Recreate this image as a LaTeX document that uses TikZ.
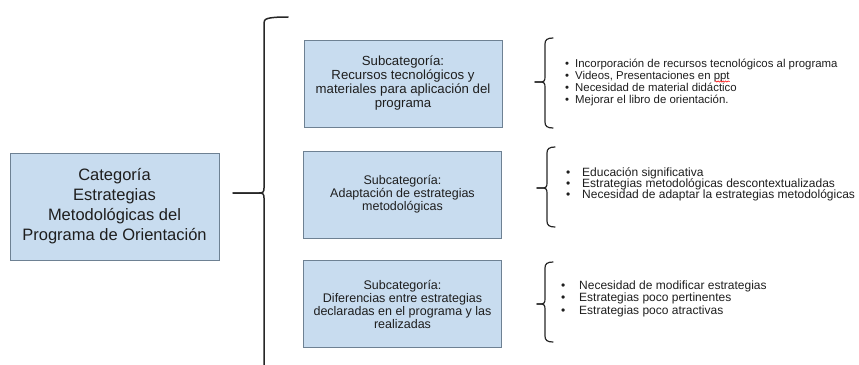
\documentclass[tikz,border=0pt]{standalone}
\usepackage{fontspec}
\setmainfont{Liberation Sans}
\usetikzlibrary{decorations.pathmorphing}
\definecolor{boxfill}{HTML}{C8DCEF}
\definecolor{boxdraw}{HTML}{6E8193}
\definecolor{txt}{HTML}{1E1E1E}
\newcommand\mybrace[6]{%
  \draw[bracestyle] (#6,#2) .. controls (#1+2,#2) and (#1,#2+2) .. (#1,#2+6)
    -- (#1,#3-5) .. controls (#1,#3-1) and (#1-1,#3) .. (#1-5,#3) -- (#5,#3);
  \draw[bracestyle] (#5,#3) -- (#1-5,#3) .. controls (#1-1,#3) and (#1,#3+1) .. (#1,#3+5)
    -- (#1,#4-6) .. controls (#1,#4-2) and (#1+2,#4) .. (#6,#4);}
\begin{document}
\begin{tikzpicture}[x=1pt,y=-1pt,
  catbox/.style={draw=boxdraw, fill=boxfill, line width=1pt, text=txt, align=center, inner sep=0pt},
  subbox/.style={catbox, minimum width=198pt, minimum height=87pt, font=\fontsize{12.5}{13}\selectfont},
  bracestyle/.style={draw=black!85, line width=1.2pt, line cap=round},
  item/.style={anchor=base west, inner sep=0pt, text=txt, font=\fontsize{12}{12}\selectfont}]
\useasboundingbox (0,0) rectangle (859,364);
\node[catbox, minimum width=209pt, minimum height=107pt, font=\fontsize{16.5}{20}\selectfont] (cat) at (114.5,206.5)
  {Categoría\\Estrategias\\Metodológicas del\\Programa de Orientación};
\node[subbox, font=\fontsize{13.2}{14}\selectfont] (s1) at (403,83.5) {Subcategoría:\\Recursos tecnológicos y\\materiales para aplicación del\\programa};
\node[subbox] (s2) at (402.5,194.5) {Subcategoría:\\Adaptación de estrategias\\metodológicas};
\node[subbox] (s3) at (402.5,304) {Subcategoría:\\Diferencias entre estrategias\\declaradas en el programa y las\\realizadas};
% big brace
\begin{scope}[bracestyle/.style={draw=black!85, line width=1.5pt, line cap=round}]
\mybrace{264}{17}{193}{372}{233}{288}
\end{scope}
% small braces
\mybrace{545}{38}{82}{128}{535}{553}
\mybrace{547}{147}{188}{227}{537}{555}
\mybrace{545}{262}{304}{342}{537}{553}
% list 1
\begin{scope}[item/.append style={font=\fontsize{11.4}{12}\selectfont}]
\node[item] (l11) at (565,67) {\makebox[10pt][l]{\textbullet}Incorporación de recursos tecnológicos al programa};
\node[item] (l12) at (565,79) {\makebox[10pt][l]{\textbullet}Videos, Presentaciones en ppt};
\node[item] (l13) at (565,91) {\makebox[10pt][l]{\textbullet}Necesidad de material didáctico};
\node[item] (l14) at (565,103) {\makebox[10pt][l]{\textbullet}Mejorar el libro de orientación.};
\end{scope}
\draw[red, line width=0.5pt, decorate, decoration={snake, amplitude=0.7pt, segment length=2.5pt}]
  ([xshift=-15pt,yshift=-2.5pt]l12.base east) -- ([yshift=-2.5pt]l12.base east);
% list 2
\node[item] (l21) at (566,176) {\makebox[16pt][l]{\textbullet}Educación significativa};
\node[item] (l22) at (566,187) {\makebox[16pt][l]{\textbullet}Estrategias metodológicas descontextualizadas};
\node[item] (l23) at (566,198) {\makebox[16pt][l]{\textbullet}Necesidad de adaptar la estrategias metodológicas};
% list 3
\node[item] (l31) at (561,289) {\makebox[18pt][l]{\textbullet}Necesidad de modificar estrategias};
\node[item] (l32) at (561,301.5) {\makebox[18pt][l]{\textbullet}Estrategias poco pertinentes};
\node[item] (l33) at (561,314) {\makebox[18pt][l]{\textbullet}Estrategias poco atractivas};
\end{tikzpicture}
\end{document}
